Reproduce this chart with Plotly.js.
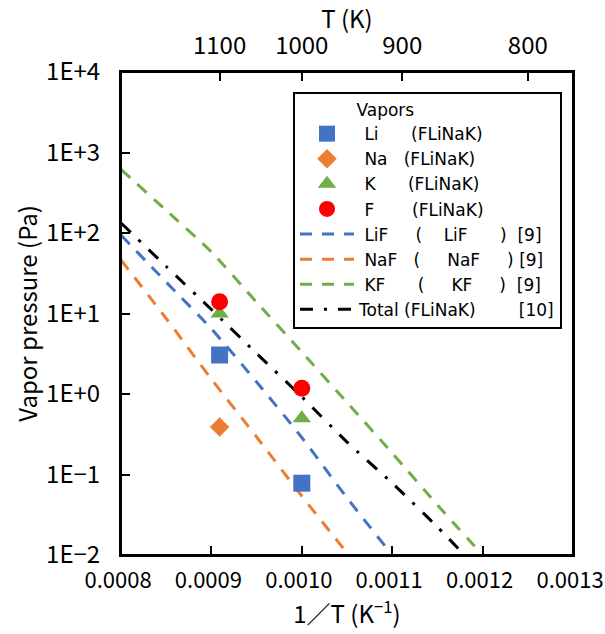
<!DOCTYPE html>
<html>
<head>
<meta charset="utf-8">
<script src="https://cdn.plot.ly/plotly-3.0.1.min.js"></script>
<style>
  html, body { margin: 0; padding: 0; background: #fff; }
  #chart { width: 605px; height: 634px; }
</style>
</head>
<body>
<div id="chart"></div>
<script>
// Vapor pressure over FLiNaK versus reciprocal temperature

// Measured vapor species over FLiNaK (at 1100 K and 1000 K)
const measTemps = [1100, 1000];
const liMeas = [3.05, 0.078];
const naTemps = [1100];
const naMeas = [0.39];
const kMeas = [10.0, 0.5];
const fMeas = [14.0, 1.18];

// Literature curves, pressure (Pa) versus 1/T (1/K)
const lifInvT = [0.00080, 0.00085, 0.00090, 0.00095, 0.00100, 0.00105, 0.00110];
const lifP    = [94, 24.5, 6.46, 1.41, 0.288, 0.0513, 0.0100];

const nafInvT = [0.00080, 0.00085, 0.00090, 0.00095, 0.00100, 0.00105];
const nafP    = [46.2, 8.67, 1.53, 0.292, 0.054, 0.0106];

const kfInvT = [0.00080, 0.00085, 0.00090, 0.00095, 0.00100, 0.00105, 0.00110, 0.00115, 0.00120];
const kfP    = [617, 191, 58.2, 13.8, 3.33, 0.785, 0.185, 0.0418, 0.0100];

const totInvT = [0.00080, 0.00085, 0.00090, 0.00095, 0.00100, 0.00105, 0.00110, 0.00115, 0.00118];
const totP    = [133, 38.4, 11.2, 3.19, 0.923, 0.253, 0.0784, 0.0223, 0.0100];

// Axis ticks
const xTickVals = [0.0008, 0.0009, 0.0010, 0.0011, 0.0012, 0.0013];
const xTickText = ['0.0008', '0.0009', '0.0010', '0.0011', '0.0012', '0.0013'];
const topTemps = [1100, 1000, 900, 800];
const yTickVals = [1e-2, 1e-1, 1e0, 1e1, 1e2, 1e3, 1e4];
const yTickText = ['1E\u22122', '1E\u22121', '1E+0', '1E+1', '1E+2', '1E+3', '1E+4'];

// Legend labels
const legendNames = {
  li:  ' Li      (FLiNaK)',
  na:  ' Na   (FLiNaK)',
  k:   ' K      (FLiNaK)',
  f:   ' F       (FLiNaK)',
  lif: ' LiF     (    LiF      )  [9]',
  naf: ' NaF   (     NaF     ) [9]',
  kf:  ' KF      (     KF     )  [9]',
  tot: 'Total (FLiNaK)        [10]'
};

const FONT = '"Noto Sans CJK JP", "Noto Sans", sans-serif';
const LEGEND_FONT = '"DejaVu Sans", "Noto Sans CJK JP", sans-serif';
const BLUE = '#4472C4', ORANGE = '#ED7D31', GREEN = '#70AD47', RED = '#FF0000';

const inv = a => a.map(t => 1 / t);

function curve(name, x, y, color, dash, rank) {
  return {
    type: 'scatter', mode: 'lines', name: name, x: x, y: y,
    line: { color: color, width: 3, dash: dash, shape: 'spline', smoothing: 0.6 },
    legendrank: rank, hoverinfo: 'skip'
  };
}
function points(name, x, y, color, symbol, size, rank) {
  return {
    type: 'scatter', mode: 'markers', name: name, x: x, y: y,
    marker: { color: color, symbol: symbol, size: size, line: { width: 0 } },
    legendrank: rank, cliponaxis: false
  };
}

const traces = [
  curve(legendNames.lif, lifInvT, lifP, BLUE, '12px,10px', 5),
  curve(legendNames.naf, nafInvT, nafP, ORANGE, '12px,10px', 6),
  curve(legendNames.kf, kfInvT, kfP, GREEN, '12px,10px', 7),
  curve(legendNames.tot, totInvT, totP, '#000', '13px,11px,3px,11px', 8),
  points(legendNames.li, inv(measTemps), liMeas, BLUE, 'square', 17, 1),
  points(legendNames.na, inv(naTemps), naMeas, ORANGE, 'diamond', 15, 2),
  points(legendNames.k, inv(measTemps), kMeas, GREEN, 'triangle-up', 16, 3),
  points(legendNames.f, inv(measTemps), fMeas, RED, 'circle', 17, 4),
  // carrier for the temperature axis along the top
  {
    type: 'scatter', mode: 'none', xaxis: 'x2', yaxis: 'y',
    x: inv(topTemps), y: topTemps.map(() => null),
    showlegend: false, hoverinfo: 'skip'
  }
];

const axisCommon = {
  ticks: 'inside', ticklen: 9, tickwidth: 2, tickcolor: '#000',
  showline: true, linecolor: '#000', linewidth: 2, showgrid: false, zeroline: false
};

const layout = {
  width: 605, height: 634,
  margin: { l: 121, r: 32, t: 72, b: 79 },
  paper_bgcolor: '#fff', plot_bgcolor: '#fff',
  font: { family: FONT, size: 24, color: '#000' },
  showlegend: true,
  xaxis: Object.assign({}, axisCommon, {
    range: [0.0008, 0.0013], tickmode: 'array', tickvals: xTickVals, ticktext: xTickText,
    tickfont: { size: 22 }, ticklabelstandoff: 5, ticklabelshift: -3, ticklabeloverflow: 'allow',
    title: { text: '1\uFF0FT (K<sup>\u22121</sup>)', font: { size: 24 }, standoff: 0 }
  }),
  xaxis2: Object.assign({}, axisCommon, {
    overlaying: 'x', side: 'top', anchor: 'y',
    range: [0.0008, 0.0013], tickmode: 'array',
    tickvals: inv(topTemps), ticktext: topTemps.map(String),
    ticklabelstandoff: 6, ticklabeloverflow: 'allow',
    title: { text: 'T (K)', font: { size: 24 }, standoff: 4 }
  }),
  yaxis: Object.assign({}, axisCommon, {
    type: 'log', range: [-2, 4], tickmode: 'array', tickvals: yTickVals, ticktext: yTickText,
    mirror: true, ticklabelstandoff: 14,
    title: { text: 'Vapor pressure (Pa)', font: { size: 24 }, standoff: 2 }
  }),
  // frame around the plotting area
  shapes: [{
    type: 'rect', xref: 'paper', yref: 'paper', x0: 0, x1: 1, y0: 0, y1: 1,
    line: { color: '#000', width: 2 }, fillcolor: 'rgba(0,0,0,0)', layer: 'above'
  }],
  legend: {
    x: 0.3805, y: 0.9586, xanchor: 'left', yanchor: 'top',
    bgcolor: '#fff', bordercolor: '#000', borderwidth: 2,
    font: { family: LEGEND_FONT, size: 17, color: '#000' },
    title: { text: '           Vapors', font: { family: LEGEND_FONT, size: 17 } },
    tracegroupgap: 0, itemwidth: 54
  }
};

Plotly.newPlot('chart', traces, layout, { staticPlot: true, displayModeBar: false });
</script>
</body>
</html>
